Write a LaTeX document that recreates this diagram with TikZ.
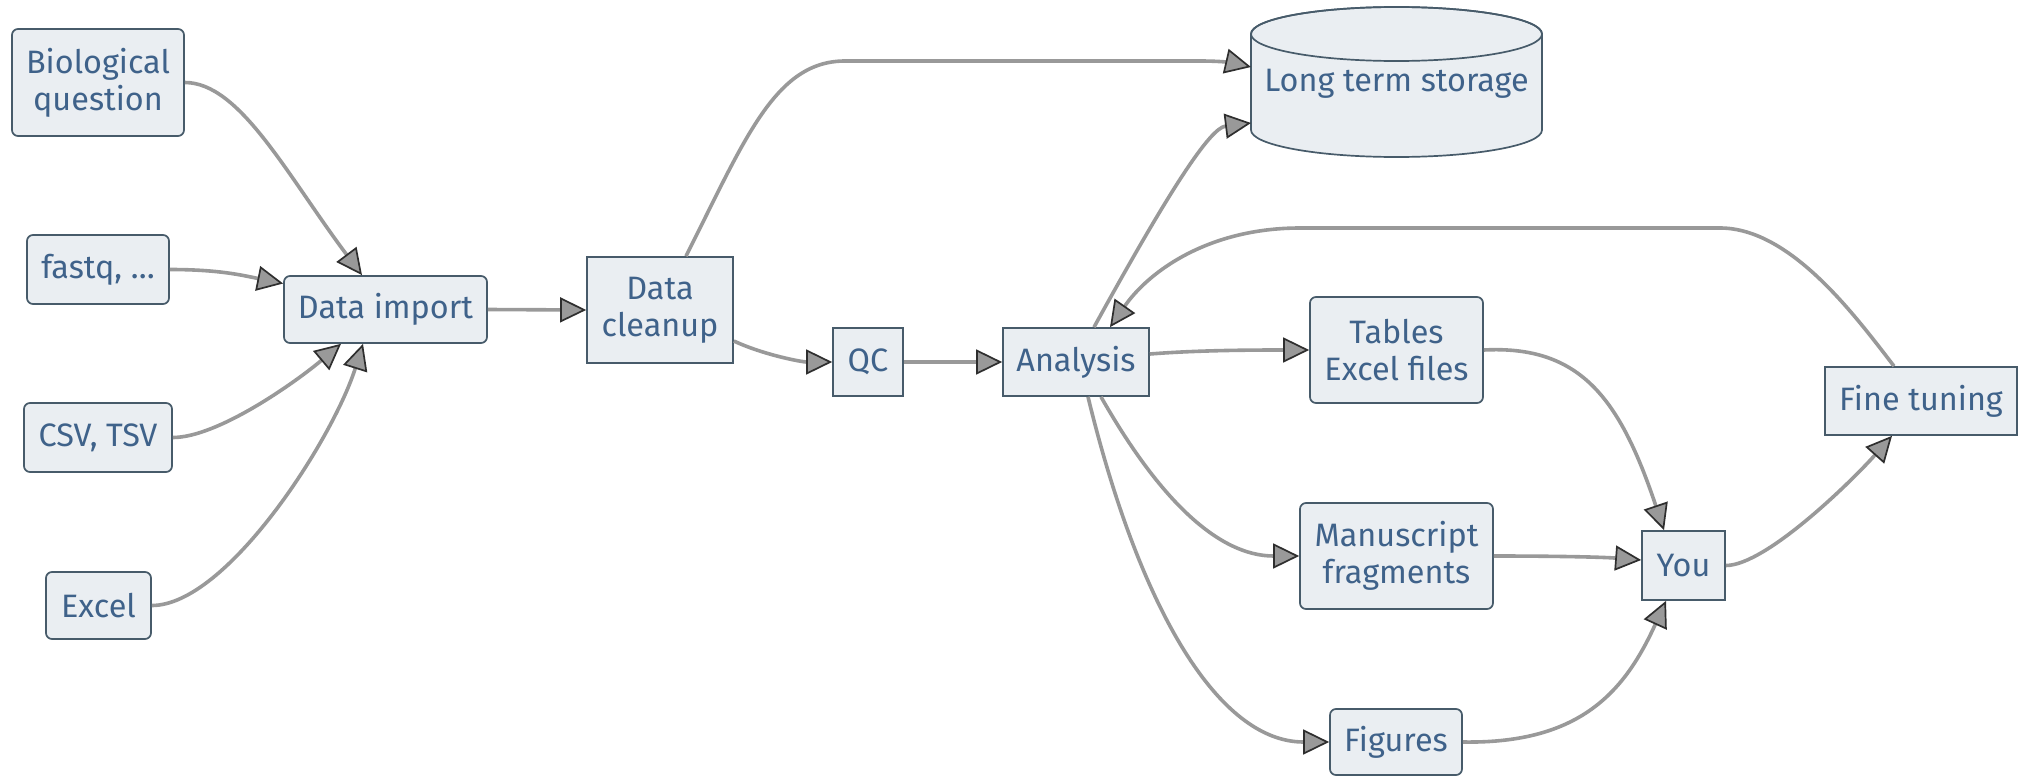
\documentclass[tikz,border=0pt]{standalone}
\usepackage{fontspec}
\setmainfont{Fira Sans}
\usetikzlibrary{arrows.meta,calc}
\definecolor{nodefill}{HTML}{EAEEF2}
\definecolor{nodeborder}{HTML}{475B6A}
\definecolor{nodetext}{HTML}{3F628A}
\definecolor{edgecol}{HTML}{999999}
\definecolor{tipdraw}{HTML}{2E2E2E}
\begin{document}
\begin{tikzpicture}[x=0.5pt,y=-0.5pt,
  txt/.style={text=nodetext, align=center, font=\fontsize{16.2}{18.5}\selectfont},
  box/.style={txt, draw=nodeborder, fill=nodefill, line width=0.85pt, inner sep=0pt},
  rbox/.style={box, rounded corners=3pt},
  wh/.style 2 args={minimum width=#1*0.5pt, minimum height=#2*0.5pt},
  flow/.style={draw=edgecol, line width=1.8pt,
    -{Triangle[length=13pt,width=12.5pt,color=tipdraw,fill=edgecol,line width=0.85pt]}},
  cyl/.style={draw=nodeborder, fill=nodefill, line width=0.85pt}
]
\useasboundingbox[fill=white] (0,0) rectangle (2019,776);

% nodes
\node[rbox, wh={172}{107}] (bio) at (98,82.5) {Biological\\question};
\node[rbox, wh={142}{69}] (fastq) at (98,269.5) {fastq, …};
\node[rbox, wh={203}{67}] (import) at (385.5,309.5) {Data import};
\node[rbox, wh={148}{69}] (csv) at (98,437.5) {CSV, TSV};
\node[rbox, wh={105}{67}] (excel) at (98.5,605.5) {Excel};
\node[box, wh={146}{106}] (cleanup) at (660,310) {Data\\cleanup};
\node[box, wh={70}{68}] (qc) at (868,362) {QC};
\node[box, wh={146}{68}] (analysis) at (1076,362) {Analysis};

% cylinder
\path[cyl] (1251,34) -- (1251,130)
  arc[start angle=180, end angle=360, x radius=72.75pt, y radius=13.5pt]
  -- (1542,34)
  arc[start angle=0, end angle=180, x radius=72.75pt, y radius=13.5pt] -- cycle;
\draw[cyl, fill=none] (1396.5,34) ellipse [x radius=72.75pt, y radius=13.5pt];
\node[txt] (lts) at (1396.5,84) {Long term storage};
\coordinate (lts1) at (1251,67);
\coordinate (lts2) at (1251,123);

\node[rbox, wh={173}{106}] (tables) at (1396.5,350) {Tables\\Excel files};
\node[rbox, wh={193}{106}] (manu) at (1396.5,556) {Manuscript\\fragments};
\node[rbox, wh={132}{66}] (figs) at (1396,742) {Figures};
\node[box, wh={83}{69}] (you) at (1683.5,565.5) {You};
\node[box, wh={192}{68}] (fine) at (1921,401) {Fine tuning};

% edges
\draw[flow] (bio.east) .. controls +(55,0) and +(-75,-100) .. ($(import.north)+(-23.5,0)$);
\draw[flow] (fastq.east) .. controls +(50,0) and +(-40,-8) .. ($(import.west)+(0,-26)$);
\draw[flow] (csv.east) .. controls +(45,0) and +(-45,38) .. ($(import.south)+(-44.5,0)$);
\draw[flow] (excel.east) .. controls +(75,0) and +(-30,95) .. ($(import.south)+(-22.5,0)$);
\draw[flow] (import.east) -- (cleanup.west);
\draw[flow] ($(cleanup.north)+(26,0)$) .. controls +(59,-117) and +(-70,0) .. (845,61)
  -- (1200,61) .. controls (1228,61) and (1238,64) .. (lts1);
\draw[flow] ($(cleanup.east)+(0,31)$) .. controls +(30,14) and +(-30,0) .. (qc.west);
\draw[flow] (qc.east) -- (analysis.west);
\draw[flow] ($(analysis.north)+(18,0)$) .. controls +(76,-138) and +(-41,5) .. (lts2);
\draw[flow] ($(fine.north)+(-27,0)$) .. controls +(-40,-52) and +(70,0) .. (1720,228)
  -- (1300,228) .. controls (1210,228) and (1150,270) .. ($(analysis.north)+(34,0)$);
\draw[flow] ($(analysis.east)+(0,-8)$) .. controls +(50,-4) and +(-50,0) .. (tables.west);
\draw[flow] ($(analysis.south)+(25,0)$) .. controls +(59,104) and +(-80,0) .. (manu.west);
\draw[flow] ($(analysis.south)+(12,0)$) .. controls +(52,214) and +(-110,0) .. (figs.west);
\draw[flow] (tables.east) .. controls +(97,-5) and +(-44,-131) .. ($(you.north)+(-19.5,0)$);
\draw[flow] (manu.east) .. controls +(60,0) and +(-40,-3) .. ($(you.west)+(0,-5.5)$);
\draw[flow] (figs.east) .. controls +(118,2) and +(-41,90) .. ($(you.south)+(-17.5,0)$);
\draw[flow] (you.east) .. controls +(40,0) and +(-40,45) .. ($(fine.south)+(-29,0)$);
\end{tikzpicture}
\end{document}
